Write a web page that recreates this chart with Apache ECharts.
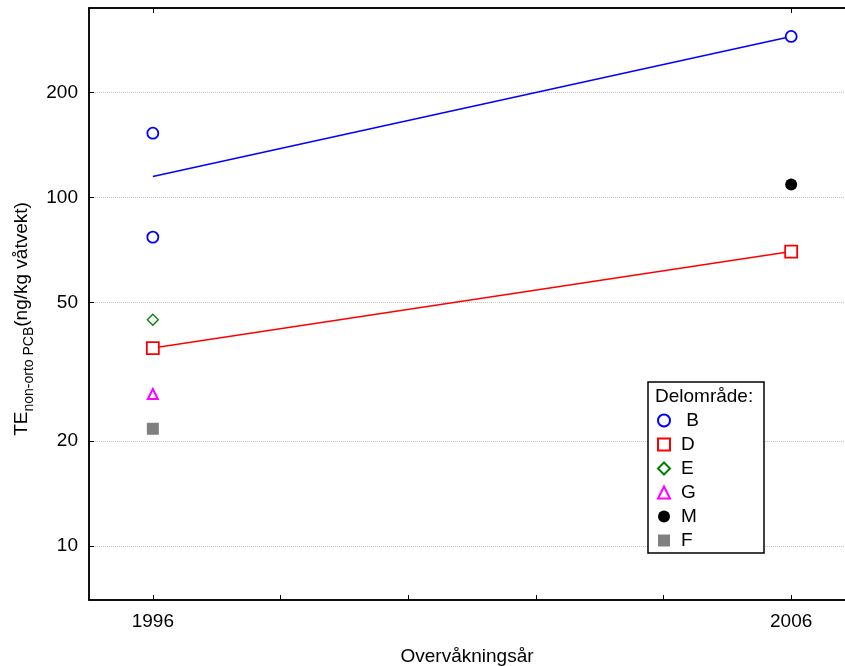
<!DOCTYPE html>
<html>
<head>
<meta charset="utf-8">
<script src="https://cdn.jsdelivr.net/npm/echarts@6/dist/echarts.min.js"></script>
<style>
  html, body { margin: 0; padding: 0; background: #fff; }
  #chart { width: 845px; height: 666px; }
</style>
</head>
<body>
<div id="chart"></div>
<script>
// data
const years = [1995, 2007]
const yTicks = [10, 20, 50, 100, 200]
const xTicks = [1996, 1998, 2000, 2002, 2004, 2006]
const xLabels = [1996, 2006]

const groups = ['B', 'D', 'E', 'G', 'M', 'F']
const pointsB = [[1996, 153], [1996, 77], [2006, 290]]
const pointsD = [[1996, 37], [2006, 70]]
const pointsE = [[1996, 44.6]]
const pointsG = [[1996, 27.3]]
const pointsM = [[2006, 109]]
const pointsF = [[1996, 21.7]]
const fitB = [[1996, 115], [2006, 290]]
const fitD = [[1996, 37], [2006, 70]]

const font = 'Liberation Sans, Arial, sans-serif'

const chart = echarts.init(document.getElementById('chart'))

function openMarker(name, data, symbol, size, color, width) {
  return {
    name: name,
    type: 'scatter',
    data: data,
    symbol: symbol,
    symbolSize: size,
    z: 5,
    itemStyle: { color: '#fff', borderColor: color, borderWidth: width, opacity: 1 }
  }
}

const option = {
  animation: false,
  textStyle: { fontFamily: font },
  grid: {
    left: 89, top: 8, right: -10, bottom: 66,
    outerBoundsMode: 'none',
    show: true, borderColor: '#000', borderWidth: 1.5
  },
  xAxis: [{
    type: 'value',
    min: years[0],
    max: years[1],
    name: 'Overvåkningsår',
    nameLocation: 'middle',
    nameGap: 45,
    nameTextStyle: { fontSize: 19, color: '#000', fontFamily: font, padding: [2, 10, 0, 0] },
    axisLine: { lineStyle: { color: '#000', width: 1.5 } },
    axisTick: { inside: true, length: 5, customValues: xTicks, lineStyle: { color: '#000' } },
    axisLabel: {
      customValues: xLabels, fontSize: 19, color: '#000', margin: 12, fontFamily: font,
      formatter: function (v) { return String(v) }
    },
    splitLine: { show: false }
  }, {
    type: 'value',
    position: 'top',
    min: years[0],
    max: years[1],
    axisLine: { lineStyle: { color: '#000', width: 1.5 } },
    axisTick: { inside: true, length: 5, customValues: xLabels, lineStyle: { color: '#000' } },
    axisLabel: { show: false },
    splitLine: { show: false }
  }],
  yAxis: {
    type: 'log',
    min: 7,
    max: 350,
    axisLine: { show: true, lineStyle: { color: '#000', width: 1.5 } },
    axisTick: { show: true, inside: true, length: 5, customValues: yTicks, lineStyle: { color: '#000' } },
    axisLabel: { customValues: yTicks, fontSize: 19, color: '#000', margin: 11, fontFamily: font },
    splitLine: { show: true, lineStyle: { color: '#c4c4c4', type: 'dotted', width: 1 } },
    minorTick: { show: false }
  },
  legend: {
    data: groups,
    orient: 'vertical',
    left: 657,
    top: 411,
    padding: 0,
    itemWidth: 12,
    itemHeight: 12,
    itemGap: 5,
    formatter: function (name) {
      return name === 'B' ? ' ' + name : name
    },
    textStyle: { fontSize: 19, color: '#000', fontFamily: font, padding: [0, 0, 0, 6] }
  },
  graphic: [{
    type: 'rect',
    z: 3,
    shape: { x: 648, y: 382, width: 116, height: 171 },
    style: { fill: '#fff', stroke: '#000', lineWidth: 1.5 }
  }, {
    type: 'text',
    z: 4,
    x: 655,
    y: 397,
    style: { text: 'Delområde:', fontSize: 19, fontFamily: font, fill: '#000', verticalAlign: 'middle' }
  }, {
    type: 'text',
    x: 24,
    y: 319,
    rotation: Math.PI / 2,
    style: {
      text: '{a|TE}{b|non-orto PCB}{a|(ng/kg våtvekt)}',
      align: 'center',
      verticalAlign: 'middle',
      fill: '#000',
      rich: {
        a: { fontSize: 19, lineHeight: 24, verticalAlign: 'top', fontFamily: font, fill: '#000' },
        b: { fontSize: 14, lineHeight: 10, verticalAlign: 'bottom', fontFamily: font, fill: '#000' }
      }
    }
  }],
  series: [
    {
      name: 'B fit', type: 'line', data: fitB, showSymbol: false, z: 3,
      lineStyle: { color: '#0000ff', width: 1.5 }
    },
    {
      name: 'D fit', type: 'line', data: fitD, showSymbol: false, z: 3,
      lineStyle: { color: '#ff0000', width: 1.5 }
    },
    openMarker('B', pointsB, 'circle', 11, '#0000ff', 1.8),
    openMarker('D', pointsD, 'rect', 12, '#ff0000', 1.8),
    openMarker('E', pointsE, 'diamond', 11, '#008000', 1.3),
    openMarker('G', pointsG, 'triangle', 10, '#ff00ff', 2),
    {
      name: 'M', type: 'scatter', data: pointsM, symbol: 'circle', symbolSize: 12, z: 5,
      itemStyle: { color: '#000', opacity: 1 }
    },
    {
      name: 'F', type: 'scatter', data: pointsF, symbol: 'rect', symbolSize: 12, z: 5,
      itemStyle: { color: '#808080', opacity: 1 }
    }
  ]
}

chart.setOption(option)
</script>
</body>
</html>
